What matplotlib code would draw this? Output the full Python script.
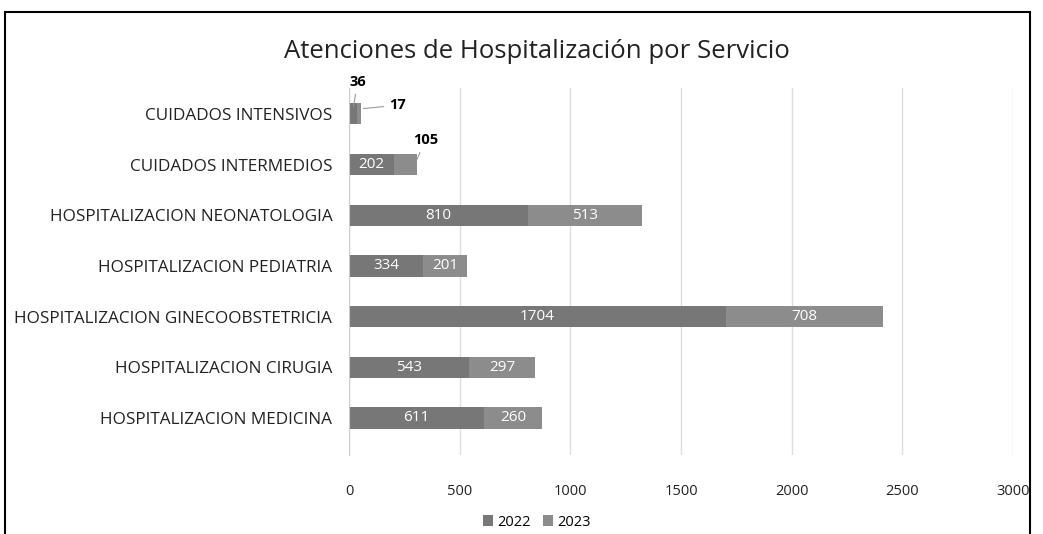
import matplotlib.pyplot as plt
from matplotlib.patches import Rectangle

categories = ['HOSPITALIZACION MEDICINA', 'HOSPITALIZACION CIRUGIA',
              'HOSPITALIZACION GINECOOBSTETRICIA', 'HOSPITALIZACION PEDIATRIA',
              'HOSPITALIZACION NEONATOLOGIA', 'CUIDADOS INTERMEDIOS',
              'CUIDADOS INTENSIVOS']
vals_2022 = [611, 543, 1704, 334, 810, 202, 36]
vals_2023 = [260, 297, 708, 201, 513, 105, 17]
xticks = [0, 500, 1000, 1500, 2000, 2500, 3000]

plt.rcParams['font.family'] = ['Open Sans', 'DejaVu Sans']

fig = plt.figure(figsize=(10.43, 5.34), dpi=100)
ax = fig.add_axes([349 / 1043, (534 - 455) / 534, (1013 - 349) / 1043, 367 / 534])

c22, c23 = '#777777', '#8c8c8c'
y = range(len(categories))
ax.barh(y, vals_2022, height=0.42, color=c22, label='2022')
ax.barh(y, vals_2023, height=0.42, left=vals_2022, color=c23, label='2023')

for i, (a, b) in enumerate(zip(vals_2022, vals_2023)):
    if a > 150:
        ax.text(a / 2, i, str(a), ha='center', va='center', color='white', fontsize=11)
    if b > 150:
        ax.text(a + b / 2, i, str(b), ha='center', va='center', color='white', fontsize=11)

# small values with leader lines
ax.annotate(str(vals_2022[6]), xy=(vals_2022[6] / 2, 6.1), xytext=(40, 6.5),
            ha='center', va='bottom', fontsize=10.5, fontweight='bold',
            arrowprops=dict(arrowstyle='-', color='#999999', lw=0.8), annotation_clip=False)
ax.annotate(str(vals_2023[6]), xy=(vals_2022[6] + vals_2023[6], 6.1), xytext=(220, 6.17),
            ha='center', va='center', fontsize=10.5, fontweight='bold',
            arrowprops=dict(arrowstyle='-', color='#999999', lw=0.8))
ax.annotate(str(vals_2023[5]), xy=(vals_2022[5] + vals_2023[5] - 10, 5.0), xytext=(345, 5.48),
            ha='center', va='center', fontsize=10.5, fontweight='bold',
            arrowprops=dict(arrowstyle='-', color='#999999', lw=0.8))

ax.set_yticks(list(y))
ax.set_yticklabels(categories, fontsize=12.3, color='#222222')
ax.set_xticks(xticks)
ax.set_xticklabels([str(t) for t in xticks], fontsize=10.5, color='#222222')
ax.set_xlim(0, 3000)
ax.set_ylim(-0.73, 6.51)
ax.tick_params(axis='y', length=0, pad=12)
ax.tick_params(axis='x', length=0, pad=21)
ax.grid(axis='x', color='#dddddd', lw=1)
ax.set_axisbelow(True)
for s in ['top', 'right', 'bottom']:
    ax.spines[s].set_visible(False)
ax.spines['left'].set_color('#cccccc')

fig.text(537 / 1043, 1 - 51 / 534, 'Atenciones de Hospitalización por Servicio',
         ha='center', va='center', fontsize=18.5, color='#222222')

fig.legend(loc='center', bbox_to_anchor=(537 / 1043, 1 - 522 / 534), ncol=2,
           frameon=False, fontsize=10.5, handlelength=0.7, handleheight=0.7,
           columnspacing=0.8, handletextpad=0.3)

fig.patches.append(Rectangle((5 / 1043, -0.05), 1025 / 1043, 1 - 12 / 534 + 0.05,
                             transform=fig.transFigure, fill=False, ec='black', lw=1.5))

fig.savefig('out.png', dpi=100)
